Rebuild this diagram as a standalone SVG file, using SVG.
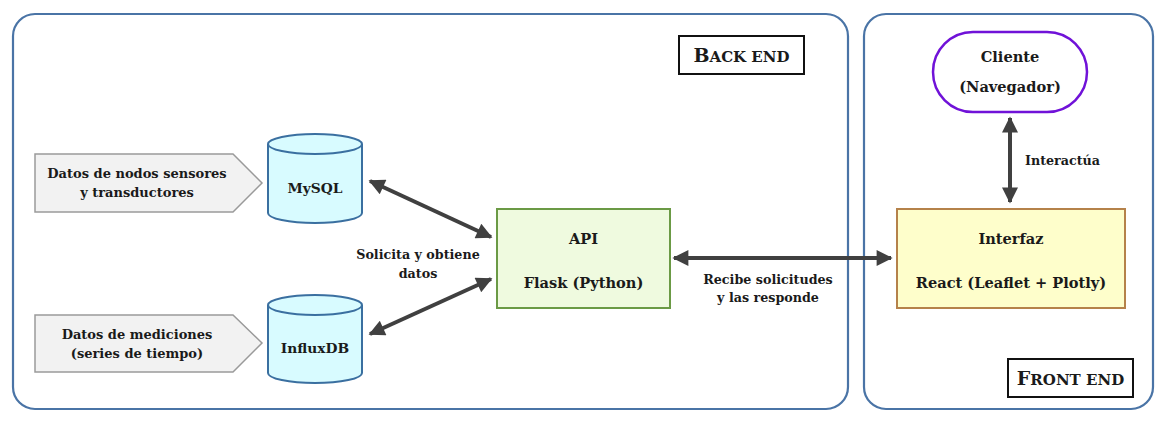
<svg xmlns="http://www.w3.org/2000/svg" width="1175" height="425" viewBox="0 0 1175 425">
<style>
text{font-family:"DejaVu Serif","Liberation Serif",serif;font-weight:bold;fill:#1a1a1a;text-anchor:middle}
.t{font-size:13px}
.c{font-size:13.8px}
.n{font-size:14.6px}
.s{font-size:12.7px}
.cont{fill:#fff;stroke:#4a74a6;stroke-width:2.2}
.tag{fill:#fff;stroke:#111;stroke-width:2}
.cyl{fill:#d8fbff;stroke:#3a6fa0;stroke-width:2}
.pent{fill:#f2f2f2;stroke:#9a9a9a;stroke-width:1.5}
.conn{stroke:#404040;stroke-width:4;fill:none}
.big{font-size:19px}
.sm{font-size:15px}
</style>
<defs>
<marker id="ah" viewBox="0 0 10 10" refX="9" refY="5" markerWidth="5" markerHeight="4" orient="auto-start-reverse" markerUnits="strokeWidth">
<path d="M0,0L10,5L0,10z" fill="#404040"/>
</marker>
</defs>
<g id="backend">
<rect class="cont" x="13" y="14" width="835" height="395" rx="22"/>
<rect class="tag" x="679" y="36" width="125" height="38"/>
<text x="741.5" y="62"><tspan class="big">B</tspan><tspan class="sm">ACK END</tspan></text>
</g>
<g id="frontend">
<rect class="cont" x="864" y="14" width="289" height="395" rx="22"/>
<rect class="tag" x="1008" y="359" width="125" height="38"/>
<text x="1070.5" y="385"><tspan class="big">F</tspan><tspan class="sm">RONT END</tspan></text>
</g>
<g id="input1">
<path class="pent" d="M35,154H233L262,183L233,212H35Z"/>
<text class="t" x="137" y="178">Datos de nodos sensores</text>
<text class="t" x="137" y="197">y transductores</text>
</g>
<g id="input2">
<path class="pent" d="M35,315H233L262,343L233,372H35Z"/>
<text class="t" x="137" y="339">Datos de mediciones</text>
<text class="t" x="137" y="358">(series de tiempo)</text>
</g>
<g id="mysql">
<path class="cyl" d="M268,144V213A47,10 0 0 0 362,213V144"/>
<ellipse class="cyl" cx="315" cy="144" rx="47" ry="10"/>
<text class="c" x="315" y="193">MySQL</text>
</g>
<g id="influxdb">
<path class="cyl" d="M268,305V373A47,10 0 0 0 362,373V305"/>
<ellipse class="cyl" cx="315" cy="305" rx="47" ry="10"/>
<text class="c" x="315" y="353">InfluxDB</text>
</g>
<g id="api">
<rect x="497" y="209" width="173" height="99" fill="#effadf" stroke="#6b9a45" stroke-width="2"/>
<text class="n" x="583.5" y="244">API</text>
<text class="n" x="583.5" y="288">Flask (Python)</text>
</g>
<g id="interfaz">
<rect x="897" y="209" width="228" height="99" fill="#fefecb" stroke="#b5824a" stroke-width="2"/>
<text class="n" x="1011" y="244">Interfaz</text>
<text class="n" x="1011" y="288">React (Leaflet + Plotly)</text>
</g>
<g id="cliente">
<rect x="933" y="32" width="154" height="80" rx="40" fill="#fff" stroke="#7012d8" stroke-width="2.5"/>
<text class="n" x="1010" y="62">Cliente</text>
<text class="n" x="1010" y="92">(Navegador)</text>
</g>
<g id="connectors">
<line class="conn" x1="370" y1="181" x2="491" y2="237" marker-start="url(#ah)" marker-end="url(#ah)"/>
<line class="conn" x1="491" y1="279" x2="370" y2="334" marker-start="url(#ah)" marker-end="url(#ah)"/>
<line class="conn" x1="674" y1="258" x2="891" y2="258" marker-start="url(#ah)" marker-end="url(#ah)"/>
<line class="conn" x1="1010" y1="118" x2="1010" y2="202" marker-start="url(#ah)" marker-end="url(#ah)"/>
<text class="s" x="418" y="259">Solicita y obtiene</text>
<text class="s" x="418" y="278">datos</text>
<text class="s" x="768" y="284">Recibe solicitudes</text>
<text class="s" x="768" y="302">y las responde</text>
<text class="s" x="1062.5" y="165">Interactúa</text>
</g>
</svg>
